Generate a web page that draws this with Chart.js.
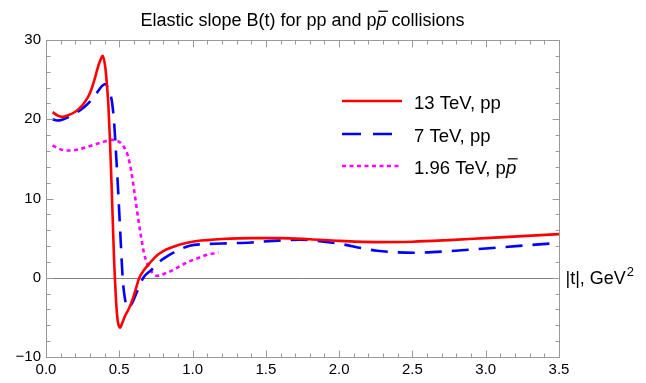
<!DOCTYPE html>
<html>
<head>
<meta charset="utf-8">
<script src="https://cdn.jsdelivr.net/npm/chart.js@4.4.1/dist/chart.umd.min.js"></script>
<style>
  html, body { margin: 0; padding: 0; background: #fff; }
  canvas { display: block; }
</style>
</head>
<body>
<canvas id="slopeChart" width="646" height="383"></canvas>
<script>
// |t| (GeV^2) and B(t) values
const tRed = [0.045, 0.08, 0.11, 0.15, 0.2, 0.25, 0.28, 0.3, 0.334, 0.35, 0.37, 0.387, 0.405, 0.415, 0.425, 0.435, 0.445, 0.455, 0.465, 0.47, 0.48, 0.49, 0.505, 0.52, 0.54, 0.573, 0.6, 0.637, 0.67, 0.71, 0.75, 0.8, 0.86, 0.914, 1.0, 1.1, 1.2, 1.4, 1.6, 1.8, 2.0, 2.25, 2.5, 2.75, 3.0, 3.25, 3.5];
const bRed = [20.9, 20.45, 20.3, 20.5, 20.95, 21.8, 22.6, 23.3, 25.2, 26.3, 27.4, 28.0, 26.5, 24.5, 22.0, 18.0, 13.0, 7.5, 2.0, 0, -3.5, -5.5, -6.3, -5.7, -4.8, -3.6, -2.2, 0, 1.0, 1.9, 2.7, 3.36, 3.85, 4.2, 4.55, 4.75, 4.88, 5.0, 5.0, 4.85, 4.65, 4.5, 4.55, 4.75, 5.0, 5.25, 5.5];

const tBlue = [0.045, 0.075, 0.11, 0.15, 0.2, 0.255, 0.31, 0.35, 0.38, 0.403, 0.43, 0.45, 0.465, 0.48, 0.495, 0.51, 0.523, 0.54, 0.562, 0.59, 0.62, 0.664, 0.72, 0.76, 0.81, 0.89, 0.98, 1.1, 1.25, 1.4, 1.55, 1.73, 1.85, 2.03, 2.15, 2.26, 2.4, 2.51, 2.75, 3.0, 3.25, 3.5];
const bBlue = [20.0, 19.85, 19.95, 20.25, 20.75, 21.45, 22.45, 23.4, 24.15, 24.45, 23.6, 22.2, 19.5, 15.0, 10.0, 4.5, 0, -2.8, -3.8, -3.1, -1.8, 0, 1.0, 1.8, 2.5, 3.36, 4.05, 4.25, 4.35, 4.45, 4.65, 4.8, 4.65, 4.2, 3.75, 3.4, 3.2, 3.15, 3.35, 3.7, 4.05, 4.4];

const tMag = [0.045, 0.08, 0.12, 0.165, 0.22, 0.28, 0.34, 0.4, 0.45, 0.48, 0.51, 0.535, 0.56, 0.58, 0.6, 0.63, 0.65, 0.668, 0.69, 0.72, 0.755, 0.78, 0.82, 0.87, 0.914, 0.97, 1.04, 1.1, 1.176];
const bMag = [16.7, 16.35, 16.1, 16.05, 16.2, 16.5, 16.85, 17.2, 17.4, 17.3, 17.0, 16.4, 15.3, 13.6, 11.2, 7.35, 5.0, 3.15, 1.8, 0.8, 0.25, 0.3, 0.6, 1.0, 1.46, 2.0, 2.5, 2.9, 3.2];

const seriesLabels = ['13 TeV, pp', '7 TeV, pp', '1.96 TeV, p'];
const xTicks = [0, 0.5, 1.0, 1.5, 2.0, 2.5, 3.0, 3.5];
const yTicks = [-10, 0, 10, 20, 30];

const FONT = '"Liberation Sans", Arial, sans-serif';
const FRAME = '#999999';

function pairs(xs, ys) {
    return xs.map((x, i) => ({ x: x, y: ys[i] }));
}

const datasets = [
    { label: seriesLabels[0], data: pairs(tRed, bRed), borderColor: '#ff0000', borderWidth: 2.6, borderDash: [] },
    { label: seriesLabels[1], data: pairs(tBlue, bBlue), borderColor: '#0000ff', borderWidth: 2.6, borderDash: [17, 10] },
    { label: seriesLabels[2], data: pairs(tMag, bMag), borderColor: '#ff00ff', borderWidth: 2.6, borderDash: [4, 3.5] }
].map(d => Object.assign(d, { pointRadius: 0, fill: false, cubicInterpolationMode: 'monotone' }));

// draw an italic p with an overline (p-bar)
function drawPbar(ctx, x, baseline, size) {
    ctx.font = 'italic ' + size + 'px ' + FONT;
    ctx.fillText('p', x, baseline);
    const w = ctx.measureText('p').width;
    ctx.save();
    ctx.lineWidth = 1.2;
    ctx.beginPath();
    ctx.moveTo(x + size * 0.1, baseline - size * 0.82);
    ctx.lineTo(x + w + size * 0.08, baseline - size * 0.82);
    ctx.stroke();
    ctx.restore();
    return w;
}

const framePlugin = {
    id: 'framePlugin',
    beforeDatasetsDraw(chart) {
        const { ctx, chartArea: a, scales: { y } } = chart;
        ctx.save();
        // zero axis line
        ctx.strokeStyle = '#808080';
        ctx.lineWidth = 1;
        const y0 = Math.round(y.getPixelForValue(0)) + 0.5;
        ctx.beginPath();
        ctx.moveTo(a.left, y0);
        ctx.lineTo(a.right, y0);
        ctx.stroke();
        ctx.restore();
    },
    afterDraw(chart) {
        const { ctx, chartArea: a, scales: { x, y } } = chart;
        ctx.save();
        ctx.strokeStyle = FRAME;
        ctx.lineWidth = 1;
        const L = Math.round(a.left) + 0.5, R = Math.round(a.right) + 0.5;
        const T = Math.round(a.top) + 0.5, B = Math.round(a.bottom) + 0.5;
        ctx.strokeRect(L, T, R - L, B - T);

        // inward ticks on all four sides
        ctx.beginPath();
        for (let i = 0; i <= 35; i++) {
            const v = i / 10;
            const px = Math.round(x.getPixelForValue(v)) + 0.5;
            const len = (i % 5 === 0) ? 7 : 4;
            ctx.moveTo(px, B); ctx.lineTo(px, B - len);
            ctx.moveTo(px, T); ctx.lineTo(px, T + len);
        }
        for (let v = -10; v <= 30; v += 2) {
            const py = Math.round(y.getPixelForValue(v)) + 0.5;
            const len = (v % 10 === 0) ? 7 : 4;
            ctx.moveTo(L, py); ctx.lineTo(L + len, py);
            ctx.moveTo(R, py); ctx.lineTo(R - len, py);
        }
        ctx.stroke();

        ctx.fillStyle = '#000';
        ctx.strokeStyle = '#000';
        ctx.textBaseline = 'alphabetic';
        ctx.textAlign = 'left';

        // title
        const tSize = 18;
        ctx.font = tSize + 'px ' + FONT;
        const t1 = 'Elastic slope B(t) for pp and p';
        const t2 = ' collisions';
        const w1 = ctx.measureText(t1).width;
        const w2 = ctx.measureText(t2).width;
        ctx.font = 'italic ' + tSize + 'px ' + FONT;
        const wp = ctx.measureText('p').width;
        const tx = (a.left + a.right) / 2 - (w1 + wp + w2) / 2;
        const tb = 26;
        ctx.font = tSize + 'px ' + FONT;
        ctx.fillText(t1, tx, tb);
        drawPbar(ctx, tx + w1, tb, tSize);
        ctx.font = tSize + 'px ' + FONT;
        ctx.fillText(t2, tx + w1 + wp, tb);

        // x axis label at the zero line
        const lb = y.getPixelForValue(0) + 6;
        ctx.font = '18px ' + FONT;
        ctx.fillText('|t|, GeV', R + 6, lb);
        const wl = ctx.measureText('|t|, GeV').width;
        ctx.font = '13px ' + FONT;
        ctx.fillText('2', R + 6 + wl + 1, lb - 8);

        // legend
        const legendY = [101, 134, 166];
        const lineX0 = 342, lineX1 = 402, textX = 414, lSize = 18.5;
        chart.data.datasets.forEach((ds, i) => {
            ctx.save();
            ctx.strokeStyle = ds.borderColor;
            ctx.lineWidth = ds.borderWidth;
            ctx.setLineDash(i === 1 ? [19, 12] : ds.borderDash);
            ctx.beginPath();
            ctx.moveTo(lineX0, legendY[i]);
            ctx.lineTo(lineX1, legendY[i]);
            ctx.stroke();
            ctx.restore();
            ctx.font = lSize + 'px ' + FONT;
            ctx.fillText(ds.label, textX, legendY[i] + 8);
            if (i === 2) {
                const w = ctx.measureText(ds.label).width;
                drawPbar(ctx, textX + w, legendY[i] + 8, lSize);
            }
        });
        ctx.restore();
    }
};

new Chart(document.getElementById('slopeChart'), {
    type: 'line',
    data: { datasets: datasets },
    options: {
        responsive: false,
        animation: false,
        devicePixelRatio: 1,
        layout: { padding: { top: 40, right: 87, left: 0, bottom: 0 } },
        plugins: { legend: { display: false }, title: { display: false }, tooltip: { enabled: false } },
        scales: {
            x: {
                type: 'linear',
                min: 0,
                max: 3.5,
                afterFit: s => { s.height = 26; },
                afterBuildTicks: s => { s.ticks = xTicks.map(v => ({ value: v })); },
                ticks: {
                    padding: 4,
                    maxRotation: 0,
                    autoSkip: false,
                    color: '#000',
                    font: { family: FONT, size: 15 },
                    callback: v => v.toFixed(1)
                },
                grid: { display: false, drawTicks: false },
                border: { display: false }
            },
            y: {
                type: 'linear',
                min: -10,
                max: 30,
                afterFit: s => { s.width = 46; },
                afterBuildTicks: s => { s.ticks = yTicks.map(v => ({ value: v })); },
                ticks: {
                    padding: 5,
                    autoSkip: false,
                    color: '#000',
                    font: { family: FONT, size: 15 },
                    callback: v => (v < 0 ? '\u2212' + Math.abs(v) : String(v))
                },
                grid: { display: false, drawTicks: false },
                border: { display: false }
            }
        }
    },
    plugins: [framePlugin]
});
</script>
</body>
</html>
